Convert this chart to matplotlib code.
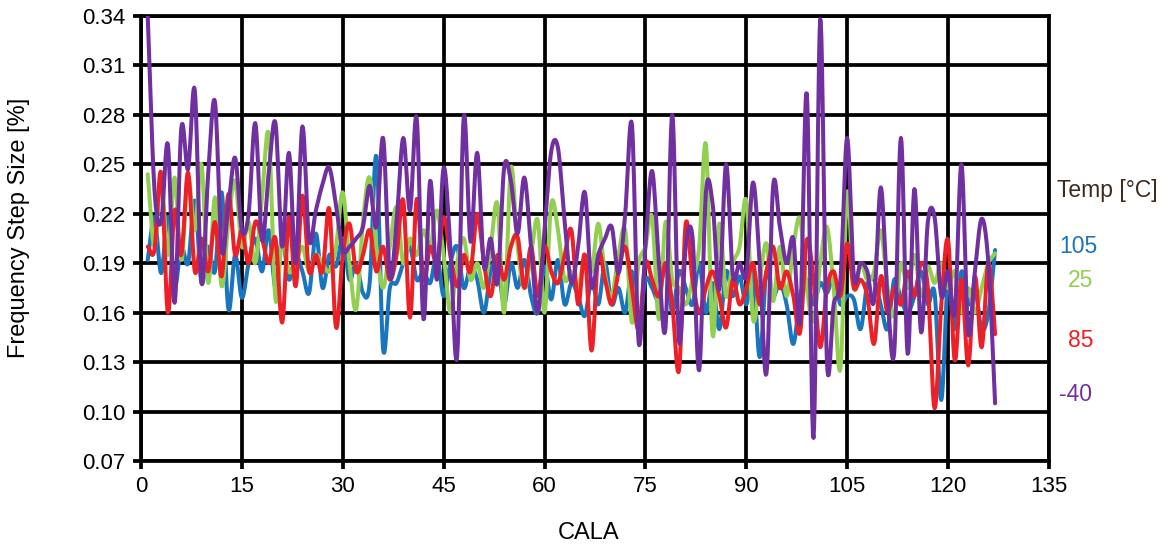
import numpy as np
import matplotlib
matplotlib.use("Agg")
import matplotlib.pyplot as plt

plt.rcParams['font.family'] = ['Liberation Sans', 'DejaVu Sans']

cala = list(range(1, 128))

temp_105 = [0.192, 0.218, 0.184, 0.218, 0.176, 0.200, 0.190, 0.228, 0.178, 0.200,
            0.185, 0.233, 0.162, 0.195, 0.169, 0.190, 0.205, 0.185, 0.210, 0.175,
            0.205, 0.180, 0.195, 0.185, 0.172, 0.208, 0.175, 0.195, 0.188, 0.205,
            0.180, 0.190, 0.172, 0.178, 0.255, 0.138, 0.175, 0.178, 0.190, 0.200,
            0.180, 0.185, 0.178, 0.195, 0.170, 0.190, 0.200, 0.175, 0.188, 0.180,
            0.160, 0.185, 0.190, 0.165, 0.190, 0.175, 0.192, 0.170, 0.160, 0.188,
            0.168, 0.192, 0.165, 0.178, 0.170, 0.158, 0.180, 0.165, 0.190, 0.165,
            0.175, 0.160, 0.185, 0.150, 0.180, 0.175, 0.168, 0.190, 0.160, 0.185,
            0.175, 0.165, 0.190, 0.160, 0.178, 0.150, 0.185, 0.170, 0.182, 0.165,
            0.185, 0.133, 0.185, 0.170, 0.178, 0.165, 0.141, 0.170, 0.180, 0.165,
            0.178, 0.172, 0.182, 0.165, 0.170, 0.168, 0.150, 0.178, 0.180, 0.165,
            0.150, 0.180, 0.168, 0.160, 0.170, 0.185, 0.165, 0.172, 0.107, 0.180,
            0.150, 0.185, 0.165, 0.175, 0.150, 0.160, 0.198]

temp_25 = [0.244, 0.200, 0.242, 0.195, 0.242, 0.192, 0.242, 0.210, 0.250, 0.178,
           0.230, 0.176, 0.215, 0.240, 0.200, 0.215, 0.190, 0.230, 0.268, 0.168,
           0.205, 0.185, 0.190, 0.200, 0.185, 0.195, 0.190, 0.185, 0.200, 0.233,
           0.190, 0.162, 0.215, 0.242, 0.200, 0.175, 0.200, 0.224, 0.190, 0.205,
           0.195, 0.210, 0.200, 0.222, 0.195, 0.160, 0.190, 0.205, 0.180, 0.190,
           0.175, 0.200, 0.226, 0.160, 0.248, 0.200, 0.175, 0.195, 0.216, 0.160,
           0.226, 0.210, 0.180, 0.185, 0.175, 0.195, 0.185, 0.214, 0.183, 0.170,
           0.195, 0.210, 0.154, 0.190, 0.200, 0.218, 0.156, 0.215, 0.180, 0.175,
           0.165, 0.180, 0.200, 0.262, 0.146, 0.214, 0.170, 0.190, 0.200, 0.228,
           0.156, 0.180, 0.202, 0.167, 0.200, 0.170, 0.200, 0.217, 0.175, 0.155,
           0.190, 0.212, 0.175, 0.126, 0.233, 0.175, 0.190, 0.180, 0.185, 0.210,
           0.175, 0.158, 0.190, 0.175, 0.195, 0.170, 0.188, 0.178, 0.190, 0.175,
           0.185, 0.160, 0.175, 0.160, 0.175, 0.190, 0.196]

temp_85 = [0.200, 0.198, 0.245, 0.160, 0.222, 0.195, 0.245, 0.185, 0.205, 0.185,
           0.215, 0.182, 0.232, 0.195, 0.210, 0.190, 0.215, 0.205, 0.190, 0.205,
           0.154, 0.218, 0.176, 0.231, 0.185, 0.195, 0.185, 0.223, 0.151, 0.195,
           0.214, 0.185, 0.195, 0.210, 0.185, 0.200, 0.180, 0.195, 0.228, 0.157,
           0.229, 0.180, 0.200, 0.190, 0.218, 0.195, 0.176, 0.195, 0.185, 0.220,
           0.190, 0.170, 0.195, 0.180, 0.200, 0.206, 0.175, 0.200, 0.170, 0.200,
           0.185, 0.178, 0.195, 0.210, 0.165, 0.195, 0.137, 0.195, 0.180, 0.165,
           0.185, 0.200, 0.175, 0.150, 0.190, 0.180, 0.170, 0.190, 0.165, 0.125,
           0.214, 0.180, 0.160, 0.175, 0.185, 0.170, 0.151, 0.180, 0.165, 0.175,
           0.190, 0.165, 0.185, 0.200, 0.175, 0.185, 0.170, 0.148, 0.204, 0.180,
           0.139, 0.175, 0.185, 0.170, 0.202, 0.175, 0.180, 0.170, 0.141, 0.182,
           0.160, 0.175, 0.165, 0.185, 0.170, 0.190, 0.175, 0.102, 0.165, 0.204,
           0.131, 0.180, 0.128, 0.182, 0.139, 0.190, 0.147]

temp_m40 = [0.340, 0.235, 0.215, 0.262, 0.166, 0.272, 0.247, 0.295, 0.178, 0.245,
            0.288, 0.198, 0.225, 0.254, 0.210, 0.220, 0.275, 0.204, 0.245, 0.275,
            0.200, 0.257, 0.190, 0.273, 0.204, 0.222, 0.238, 0.248, 0.225, 0.198,
            0.200, 0.205, 0.212, 0.237, 0.212, 0.266, 0.182, 0.215, 0.266, 0.222,
            0.278, 0.156, 0.240, 0.180, 0.248, 0.200, 0.133, 0.279, 0.203, 0.257,
            0.188, 0.205, 0.178, 0.248, 0.240, 0.208, 0.242, 0.200, 0.160, 0.210,
            0.258, 0.260, 0.215, 0.178, 0.200, 0.233, 0.176, 0.195, 0.205, 0.212,
            0.184, 0.220, 0.274, 0.142, 0.200, 0.246, 0.190, 0.151, 0.280, 0.143,
            0.200, 0.206, 0.125, 0.233, 0.226, 0.174, 0.250, 0.183, 0.190, 0.183,
            0.239, 0.190, 0.123, 0.237, 0.212, 0.190, 0.205, 0.155, 0.293, 0.084,
            0.338, 0.130, 0.165, 0.180, 0.266, 0.182, 0.190, 0.185, 0.167, 0.236,
            0.170, 0.136, 0.266, 0.135, 0.235, 0.148, 0.215, 0.218, 0.170, 0.185,
            0.160, 0.250, 0.148, 0.185, 0.217, 0.190, 0.105]

series = [
    ("105", temp_105, "#1a75bf"),
    ("25", temp_25, "#92cf50"),
    ("85", temp_85, "#ee2027"),
    ("-40", temp_m40, "#7030a0"),
]

x_ticks = list(range(0, 136, 15))
y_ticks = [0.07, 0.10, 0.13, 0.16, 0.19, 0.22, 0.25, 0.28, 0.31, 0.34]


def smooth(x, y, n=12):
    """Catmull-Rom curve through the data points (rendering like Excel's smoothed line)."""
    x = np.asarray(x, float)
    y = np.asarray(y, float)
    px = np.concatenate([[2 * x[0] - x[1]], x, [2 * x[-1] - x[-2]]])
    py = np.concatenate([[2 * y[0] - y[1]], y, [2 * y[-1] - y[-2]]])
    t = np.linspace(0, 1, n, endpoint=False)
    xs, ys = [], []
    for i in range(1, len(px) - 2):
        for arr, out in ((px, xs), (py, ys)):
            p0, p1, p2, p3 = arr[i - 1], arr[i], arr[i + 1], arr[i + 2]
            out.append(0.5 * ((2 * p1) + (-p0 + p2) * t
                              + (2 * p0 - 5 * p1 + 4 * p2 - p3) * t ** 2
                              + (-p0 + 3 * p1 - 3 * p2 + p3) * t ** 3))
    xs.append([x[-1]])
    ys.append([y[-1]])
    return np.concatenate(xs), np.concatenate(ys)


fig = plt.figure(figsize=(11.7, 5.48), dpi=100)
ax = fig.add_axes([0.1205, 0.1588, 0.776, 0.812])

for label, vals, col in series:
    sx, sy = smooth(cala, vals)
    ax.plot(sx, sy, color=col, lw=2.9, solid_capstyle='round', zorder=3)

ax.set_xlim(0, 135)
ax.set_ylim(0.07, 0.34)
ax.set_xticks(x_ticks)
ax.set_yticks(y_ticks)
ax.set_yticklabels([f"{v:.2f}" for v in y_ticks])
ax.grid(True, color='black', lw=2.7, zorder=1)
ax.set_axisbelow(True)
for s in ax.spines.values():
    s.set_color('black')
    s.set_linewidth(2.7)
ax.tick_params(axis='both', colors='black', labelsize=16, width=2.7,
               length=6, direction='out', pad=5)

fig.text(589 / 1170, 1 - 533 / 548, "CALA", fontsize=17, ha='center', va='center')
fig.text(19 / 1170, 1 - 228 / 548, "Frequency Step Size [%]", fontsize=17,
         rotation=90, ha='center', va='center')

fig.text(0.903, 0.652, "Temp [°C]", color="#3d2b1f", fontsize=16.5, va='center', ha='left')
label_pos = {"105": (0.905, 0.551), "25": (0.913, 0.489), "85": (0.913, 0.379), "-40": (0.905, 0.281)}
for label, vals, col in series:
    lx, ly = label_pos[label]
    fig.text(lx, ly, label, color=col, fontsize=16.5, va='center', ha='left')

fig.savefig("out.png", dpi=100)
